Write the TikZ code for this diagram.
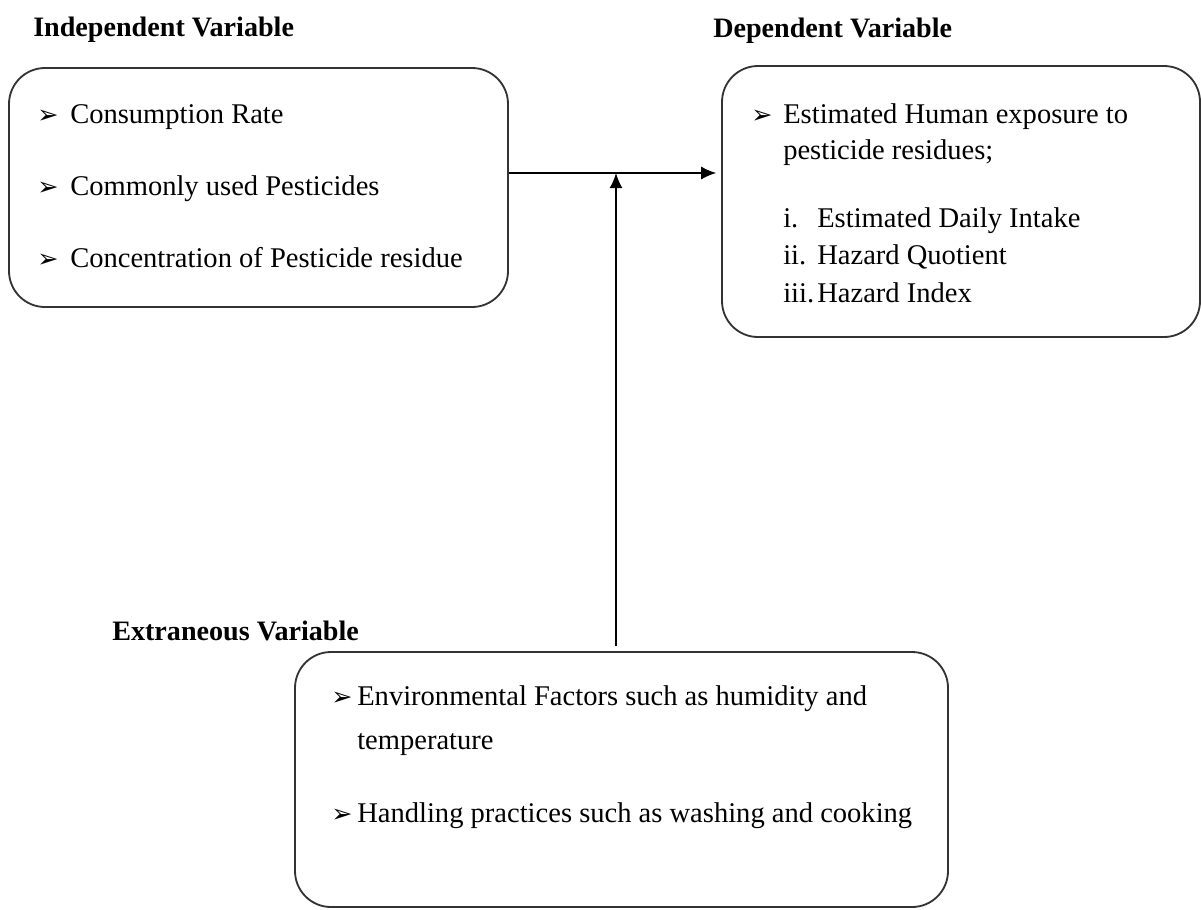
\documentclass[tikz,border=0pt]{standalone}
\usepackage{fontspec}
\setmainfont{Liberation Serif}
\newfontfamily\symfont{DejaVu Sans}
\usetikzlibrary{arrows.meta,positioning,fit}

\tikzset{
	varbox/.style={draw=black!80, line width=1.3pt, rounded corners=0.9cm, inner sep=0pt},
	txt/.style={anchor=base west, inner sep=0pt, font=\fontsize{20.3}{24}\selectfont},
	head/.style={anchor=base west, inner sep=0pt, font=\fontsize{20}{24}\selectfont\bfseries},
	tick/.style={anchor=base west, inner sep=0pt, font=\symfont\fontsize{18}{20}\selectfont},
	link/.style={line width=1.3pt, -{Latex[length=0.38cm, width=0.33cm]}}
}

\begin{document}
\begin{tikzpicture}[x=0.025cm, y=-0.025cm]
		\useasboundingbox (0,0) rectangle (1201,909);

		% independent variable
		\node[head] (indephead) at (33,36) {Independent Variable};
		\node[varbox, fit={(9,68) (508,307)}] (indep) {};
		\node[tick] (b1) at (37,123) {➢};
		\node[txt] (rate) at (70,123) {Consumption Rate};
		\node[tick] (b2) at (37,195) {➢};
		\node[txt] (pest) at (70,195) {Commonly used Pesticides};
		\node[tick] (b3) at (37,267) {➢};
		\node[txt] (conc) at (70,267) {Concentration of Pesticide residue};

		% dependent variable
		\node[head] (dephead) at (713,37) {Dependent Variable};
		\node[varbox, fit={(722,66) (1200,337)}] (dep) {};
		\node[tick] (b4) at (751,123) {➢};
		\node[txt] (expo) at (783,123) {Estimated Human exposure to};
		\node[txt] (resid) at (783,159) {pesticide residues;};
		\node[txt] (n1) at (783,227) {i.};
		\node[txt] (edi) at (817,227) {Estimated Daily Intake};
		\node[txt] (n2) at (783,264) {ii.};
		\node[txt] (hq) at (817,264) {Hazard Quotient};
		\node[txt] (n3) at (783,302) {iii.};
		\node[txt] (hi) at (817,302) {Hazard Index};

		% extraneous variable
		\node[head] (extrahead) at (112,640) {Extraneous Variable};
		\node[varbox, fit={(295,652) (948,907)}] (extra) {};
		\node[tick] (b5) at (331,705) {➢};
		\node[txt] (env) at (357,705) {Environmental Factors such as humidity and};
		\node[txt] (temp) at (357,749) {temperature};
		\node[tick] (b6) at (331,822) {➢};
		\node[txt] (hand) at (357,822) {Handling practices such as washing and cooking};

		% connectors
		\coordinate (meet) at (616,173);
		\draw[link, shorten >=0.12cm] (indep.east |- meet) -- (dep.west |- meet);
		\draw[link, shorten <=0.12cm] (extra.north -| meet) -- (meet);
	\end{tikzpicture}
\end{document}
